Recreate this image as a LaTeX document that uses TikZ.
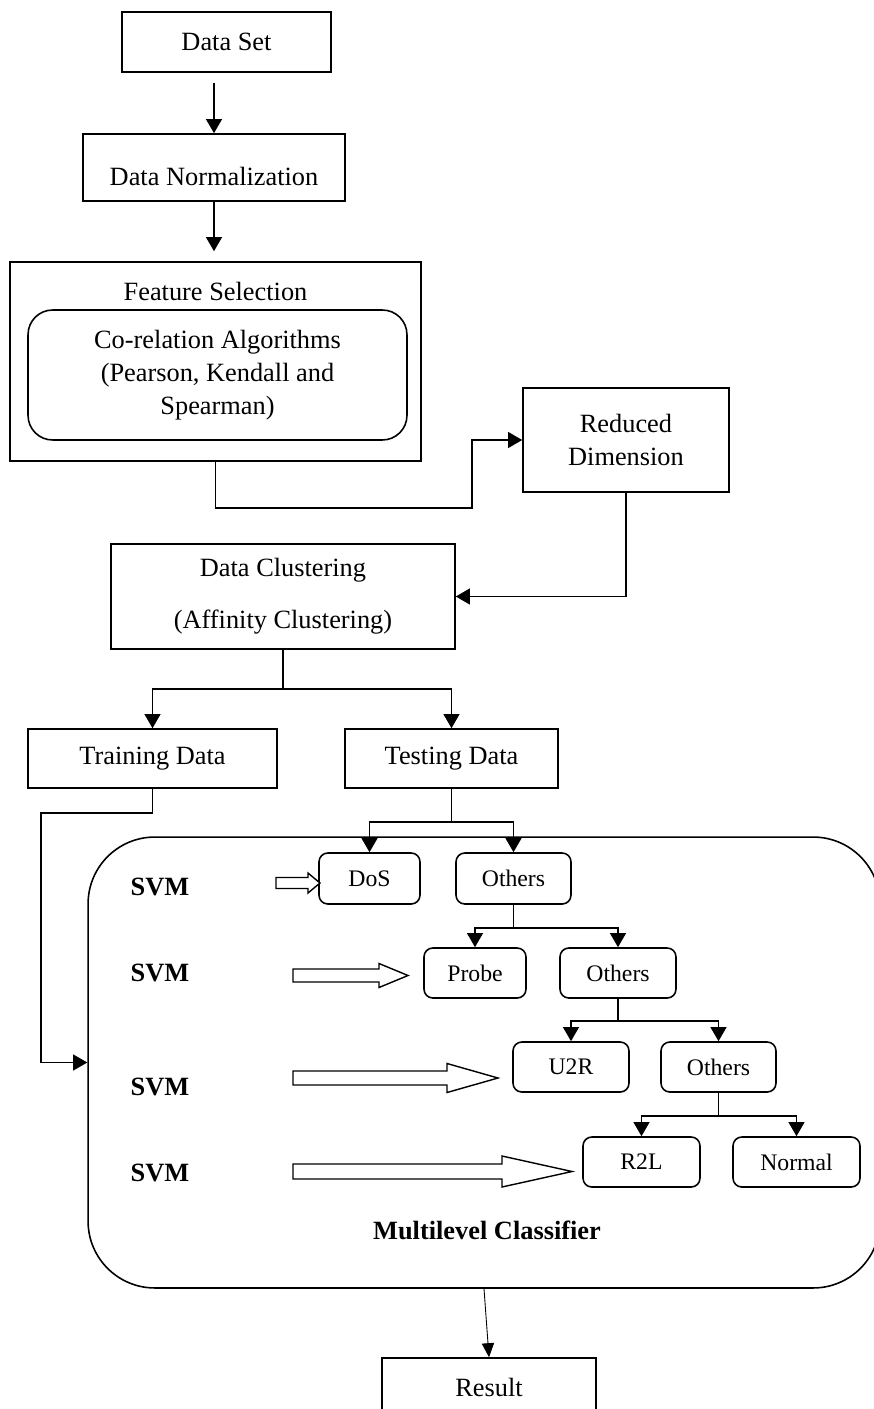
\documentclass[tikz,border=0pt]{standalone}
\usepackage{fontspec}
\setmainfont{Liberation Serif}
\usetikzlibrary{arrows.meta, calc}

\begin{document}
\begin{tikzpicture}[x=0.02cm, y=-0.02cm, line width=0.9pt,
    box/.style={draw, inner sep=0pt, align=center, font=\fontsize{15}{18.7}\selectfont},
    cls/.style={draw, rounded corners=5pt, inner sep=0pt, minimum height=1cm, font=\fontsize{13.5}{16}\selectfont},
    arr/.style={-{Triangle[length=8pt, width=9pt]}},
    hollow/.style={draw, fill=white, line width=0.8pt, line join=miter},
    lbl/.style={font=\fontsize{15}{18}\selectfont\bfseries}]
        \useasboundingbox (0,0) rectangle (873,1409);

        % Pipeline boxes
        \node[box, minimum width=4.18cm, minimum height=1.2cm] (dataset) at (226.5,42) {Data Set};
        \node[box, minimum width=5.24cm, minimum height=1.34cm, text height=20pt, text depth=0pt] (norm) at (214,167.5) {Data Normalization};
        \node[box, minimum width=8.22cm, minimum height=3.98cm] (fsel) at (215.5,361.5) {};
        \node[box, draw=none] (fsname) at (215.5,291) {Feature Selection};
        \node[box, rounded corners=14pt, minimum width=7.58cm, minimum height=2.6cm] (corr) at (217.5,375)
            {Co-relation Algorithms\\(Pearson, Kendall and\\Spearman)};
        \node[box, minimum width=4.12cm, minimum height=2.08cm] (reddim) at (626,440) {Reduced\\Dimension};
        \node[box, minimum width=6.88cm, minimum height=2.1cm] (clust) at (283,596.5) {Data Clustering\\[11pt](Affinity Clustering)};
        \node[box, minimum width=4.98cm, minimum height=1.18cm] (train) at (152.5,758.5) {Training Data};
        \node[box, minimum width=4.26cm, minimum height=1.18cm] (test) at (451.5,758.5) {Testing Data};

        % Multilevel classifier
        \node[draw, rounded corners=38pt, minimum width=15.84cm, minimum height=9.02cm] (big) at (484,1062.5) {};
        \node[cls, minimum width=2.02cm, minimum height=1.02cm] (dos) at (369.5,878.5) {DoS};
        \node[cls, minimum width=2.3cm, minimum height=1.02cm] (oth1) at (513.5,878.5) {Others};
        \node[cls, minimum width=2.04cm] (probe) at (475,973) {Probe};
        \node[cls, minimum width=2.32cm] (oth2) at (618,973) {Others};
        \node[cls, minimum width=2.32cm] (u2r) at (571,1067) {U2R};
        \node[cls, minimum width=2.3cm] (oth3) at (718.5,1067) {Others};
        \node[cls, minimum width=2.34cm] (r2l) at (641.5,1162) {R2L};
        \node[cls, minimum width=2.54cm] (normal) at (796.5,1162) {Normal};
        \node[lbl] (mlc) at (487,1230) {Multilevel Classifier};
        \foreach \y [count=\i] in {887,973,1087,1173} {
            \node[lbl] (svm\i) at (160,\y) {SVM};
        }

        % SVM arrows
        \foreach \xa/\xb/\yc/\hl/\sw/\hw in {276/320/883/12/5.5/10, 293/408/975.5/29/6.5/12,
                                            293/498/1078/51/7/14.5, 293/572/1171.5/70/7.5/15.5} {
            \draw[hollow] ({\xa},{\yc-\sw}) -- ({\xb-\hl},{\yc-\sw}) -- ({\xb-\hl},{\yc-\hw}) -- ({\xb},{\yc})
                -- ({\xb-\hl},{\yc+\hw}) -- ({\xb-\hl},{\yc+\sw}) -- ({\xa},{\yc+\sw}) -- cycle;
        }

        \node[box, minimum width=4.28cm, minimum height=1.16cm] (result) at (489,1387) {Result};

        % Connectors
        \draw[arr, shorten <=0.2cm] (dataset.south -| norm.north) -- (norm.north);
        \draw[arr, shorten >=0.2cm] (norm.south) -- (norm.south |- fsel.north);
        \coordinate (fsbend) at (472,508);
        \draw[arr] (fsel.south) |- (fsbend) |- (reddim.west);
        \draw[arr] (reddim.south) |- (clust.east);
        \draw[arr] (clust.south) -- ++(0,39) -| (train.north);
        \draw[arr] (clust.south) -- ++(0,39) -| (test.north);
        \coordinate (trbend) at (41,813);
        \draw[arr] (train.south) |- (trbend) |- (big.west);

        \foreach \a/\b/\c/\d in {test/dos/oth1/33, oth1/probe/oth2/23, oth2/u2r/oth3/22, oth3/r2l/normal/23} {
            \draw[arr] (\a.south) -- ++(0,\d) -| (\b.north);
            \draw[arr] (\a.south) -- ++(0,\d) -| (\c.north);
        }

        \draw[-{Triangle[length=8pt, width=7pt]}, line width=0.5pt] (big.south) -- (result.north);

    \end{tikzpicture}
\end{document}
